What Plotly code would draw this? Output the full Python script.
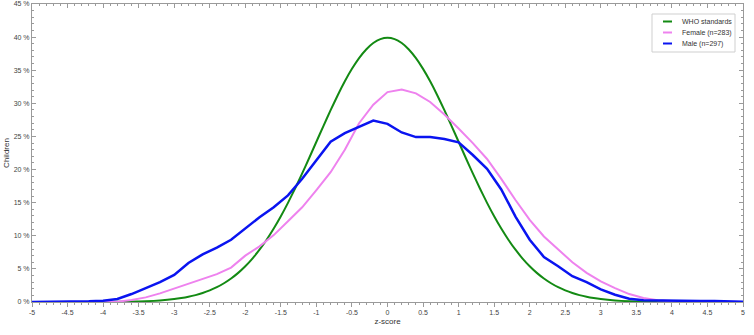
import plotly.graph_objects as go

# ---- data ----
who_z = [-5.0, -4.5, -4.0, -3.8, -3.6, -3.4, -3.2, -3.0, -2.9, -2.8, -2.7, -2.6, -2.5, -2.4, -2.3, -2.2, -2.1,
         -2.0, -1.9, -1.8, -1.7, -1.6, -1.5, -1.4, -1.3, -1.2, -1.1, -1.0, -0.9, -0.8, -0.7, -0.6, -0.5,
         -0.4, -0.3, -0.2, -0.1, 0.0, 0.1, 0.2, 0.3, 0.4, 0.5, 0.6, 0.7, 0.8, 0.9, 1.0, 1.1, 1.2, 1.3,
         1.4, 1.5, 1.6, 1.7, 1.8, 1.9, 2.0, 2.1, 2.2, 2.3, 2.4, 2.5, 2.6, 2.7, 2.8, 2.9, 3.0, 3.2, 3.4,
         3.6, 3.8, 4.0, 4.5, 5.0]
who_pct = [0.0, 0.002, 0.013, 0.029, 0.061, 0.123, 0.238, 0.443, 0.595, 0.792, 1.042, 1.358, 1.753, 2.239,
           2.833, 3.547, 4.398, 5.399, 6.562, 7.895, 9.405, 11.092, 12.952, 14.973, 17.137, 19.419,
           21.785, 24.197, 26.609, 28.969, 31.225, 33.322, 35.207, 36.827, 38.139, 39.104, 39.695,
           39.894, 39.695, 39.104, 38.139, 36.827, 35.207, 33.322, 31.225, 28.969, 26.609, 24.197,
           21.785, 19.419, 17.137, 14.973, 12.952, 11.092, 9.405, 7.895, 6.562, 5.399, 4.398, 3.547,
           2.833, 2.239, 1.753, 1.358, 1.042, 0.792, 0.595, 0.443, 0.238, 0.123, 0.061, 0.029, 0.013,
           0.002, 0.0]

obs_z = [-5.0, -4.8, -4.6, -4.4, -4.2, -4.0, -3.8, -3.6, -3.4, -3.2, -3.0, -2.8, -2.6, -2.4, -2.2, -2.0,
         -1.8, -1.6, -1.4, -1.2, -1.0, -0.8, -0.6, -0.4, -0.2, 0.0, 0.2, 0.4, 0.6, 0.8, 1.0, 1.2, 1.4,
         1.6, 1.8, 2.0, 2.2, 2.4, 2.6, 2.8, 3.0, 3.2, 3.4, 3.6, 3.8, 4.0, 4.2, 4.4, 4.6, 4.8, 5.0]
female_pct = [0.0, 0.0, 0.0, 0.0, 0.0, 0.0, 0.05, 0.3, 0.7, 1.3, 2.0, 2.7, 3.4, 4.2, 5.2, 7.0, 8.4, 10.1,
              12.2, 14.3, 16.9, 19.6, 23.0, 27.0, 29.8, 31.7, 32.1, 31.5, 30.2, 28.3, 26.2, 24.0, 21.6,
              18.6, 15.4, 12.4, 9.9, 8.0, 6.0, 4.4, 3.1, 2.1, 1.2, 0.6, 0.25, 0.15, 0.12, 0.1, 0.1, 0.05,
              0.0]
male_pct = [0.0, 0.0, 0.02, 0.05, 0.1, 0.2, 0.45, 1.2, 2.1, 3.0, 4.1, 5.9, 7.2, 8.2, 9.4, 11.1, 12.8, 14.3,
            16.1, 18.6, 21.4, 24.2, 25.5, 26.5, 27.4, 26.9, 25.6, 24.9, 24.9, 24.6, 24.1, 22.2, 20.1, 17.0,
            12.9, 9.4, 6.8, 5.4, 3.9, 3.0, 1.9, 1.1, 0.5, 0.25, 0.2, 0.15, 0.15, 0.15, 0.15, 0.1, 0.05]

x_tickvals = [-5, -4.5, -4, -3.5, -3, -2.5, -2, -1.5, -1, -0.5, 0, 0.5, 1, 1.5, 2, 2.5, 3, 3.5, 4, 4.5, 5]
x_ticktext = ["-5", "-4.5", "-4", "-3.5", "-3", "-2.5", "-2", "-1.5", "-1", "-0.5", "0", "0.5", "1",
              "1.5", "2", "2.5", "3", "3.5", "4", "4.5", "5"]

series_names = ["WHO standards", "Female (n=283)", "Male (n=297)"]
series_colors = ["#138a13", "#ee82ee", "#0a14f0"]
series_widths = [2, 2, 2.5]

FONT = "Arial, Liberation Sans, sans-serif"
AXIS_COL = "#9a9a9a"
TICK_FONT = dict(family=FONT, size=7, color="#444444")

W, H = 754, 335
ML, MR, MT, MB = 32, 11, 4, 33
PW, PH = W - ML - MR, H - MT - MB


def px2paper(px, py):
    return (px - ML) / PW, (H - MB - py) / PH


fig = go.Figure()
fig.add_trace(go.Scatter(x=who_z, y=who_pct, mode="lines", name=series_names[0],
                         line=dict(color=series_colors[0], width=series_widths[0], shape="spline",
                                   smoothing=0.6)))
fig.add_trace(go.Scatter(x=obs_z, y=female_pct, mode="lines", name=series_names[1],
                         line=dict(color=series_colors[1], width=series_widths[1])))
fig.add_trace(go.Scatter(x=obs_z, y=male_pct, mode="lines", name=series_names[2],
                         line=dict(color=series_colors[2], width=series_widths[2])))
# invisible trace to activate the top axis
fig.add_trace(go.Scatter(x=[x_tickvals[0]], y=[0], xaxis="x2", mode="markers",
                         marker=dict(opacity=0), showlegend=False, hoverinfo="skip"))

# compact legend box drawn manually
x0, y0 = px2paper(652, 52)
x1, y1 = px2paper(735, 14)
fig.add_shape(type="rect", xref="paper", yref="paper", x0=x0, y0=y0, x1=x1, y1=y1,
              line=dict(color="#cfcfcf", width=1), fillcolor="white", layer="above")
for i, name in enumerate(series_names):
    row_y = 21.5 + 11 * i
    lx0, ly = px2paper(663, row_y)
    lx1, _ = px2paper(672, row_y)
    fig.add_shape(type="line", xref="paper", yref="paper", x0=lx0, x1=lx1, y0=ly, y1=ly,
                  line=dict(color=series_colors[i], width=2), layer="above")
    tx, _ = px2paper(680, row_y)
    fig.add_annotation(x=tx, y=ly, xref="paper", yref="paper", text=name, showarrow=False,
                       xanchor="left", yanchor="middle",
                       font=dict(family=FONT, size=7, color="#333333"))

fig.update_layout(
    width=W, height=H,
    margin=dict(l=ML, r=MR, t=MT, b=MB, autoexpand=False),
    paper_bgcolor="white", plot_bgcolor="white",
    font=dict(family=FONT, size=8, color="#333333"),
    showlegend=False,
    xaxis=dict(range=[-5, 5], tickvals=x_tickvals, ticktext=x_ticktext, automargin=False,
               showgrid=False, zeroline=False, showline=True, linecolor=AXIS_COL, linewidth=1,
               ticks="outside", ticklen=4, tickcolor=AXIS_COL, tickfont=TICK_FONT,
               minor=dict(dtick=0.1, tick0=0, ticks="outside", ticklen=2, tickcolor=AXIS_COL),
               title=dict(text="z-score", font=dict(family=FONT, size=8, color="#333333"), standoff=2)),
    xaxis2=dict(range=[-5, 5], overlaying="x", side="top", anchor="y", tickvals=x_tickvals,
                automargin=False,
                showticklabels=False, showgrid=False, zeroline=False, showline=True,
                linecolor=AXIS_COL, linewidth=1, ticks="inside", ticklen=4, tickcolor=AXIS_COL,
                minor=dict(dtick=0.1, tick0=0, ticks="inside", ticklen=2, tickcolor=AXIS_COL)),
    yaxis=dict(range=[0, 45], dtick=5, ticksuffix=" %", showgrid=False, zeroline=False,
               automargin=False,
               showline=True, mirror="ticks", linecolor=AXIS_COL, linewidth=1,
               ticks="inside", ticklen=4, tickcolor=AXIS_COL, tickfont=TICK_FONT,
               minor=dict(dtick=1, ticks="inside", ticklen=2, tickcolor=AXIS_COL),
               title=dict(text="Children", font=dict(family=FONT, size=8, color="#333333"), standoff=2)),
)

fig.write_html("out.html", config={"displayModeBar": False},
               post_script="document.body.style.margin='0';document.body.style.padding='0';")
